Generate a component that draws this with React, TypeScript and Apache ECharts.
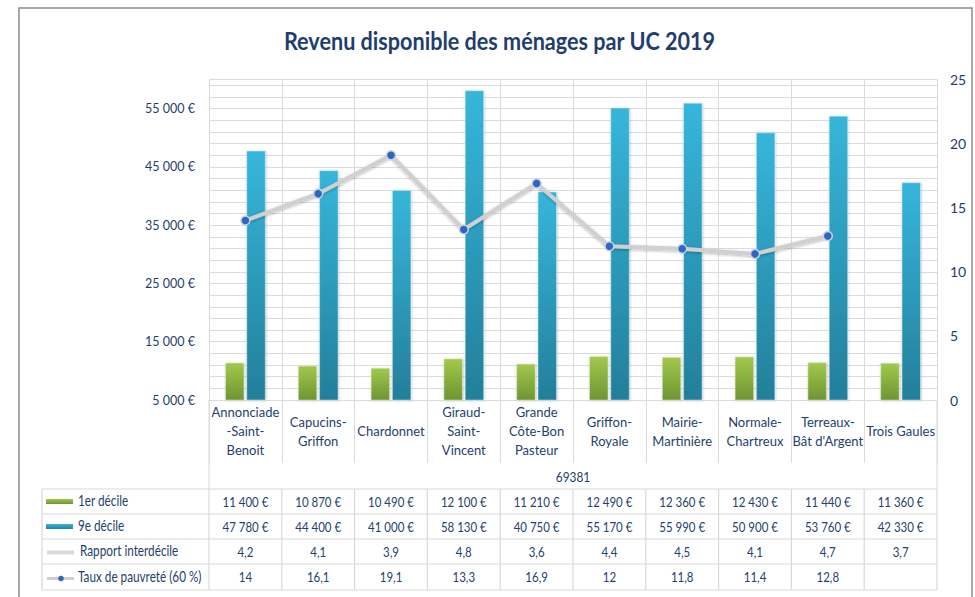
import React, { useEffect, useRef } from "react";
import * as echarts from "echarts";

const categories = [
  "Annonciade-Saint-Benoit",
  "Capucins-Griffon",
  "Chardonnet",
  "Giraud-Saint-Vincent",
  "Grande Côte-Bon Pasteur",
  "Griffon-Royale",
  "Mairie-Martinière",
  "Normale-Chartreux",
  "Terreaux-Bât d'Argent",
  "Trois Gaules",
];
const categoryLabels = [
  "Annonciade\n-Saint-\nBenoit",
  "Capucins-\nGriffon",
  "Chardonnet",
  "Giraud-\nSaint-\nVincent",
  "Grande\nCôte-Bon\nPasteur",
  "Griffon-\nRoyale",
  "Mairie-\nMartinière",
  "Normale-\nChartreux",
  "Terreaux-\nBât d'Argent",
  "Trois Gaules",
];
const groupLabel = "69381";
const decile1 = [11400, 10870, 10490, 12100, 11210, 12490, 12360, 12430, 11440, 11360];
const decile9 = [47780, 44400, 41000, 58130, 40750, 55170, 55990, 50900, 53760, 42330];
const rapport = [4.2, 4.1, 3.9, 4.8, 3.6, 4.4, 4.5, 4.1, 4.7, 3.7];
const pauvrete: (number | null)[] = [14, 16.1, 19.1, 13.3, 16.9, 12, 11.8, 11.4, 12.8, null];
const seriesNames = ["1er décile", "9e décile", "Rapport interdécile", "Taux de pauvreté (60 %)"];
const title = "Revenu disponible des ménages par UC 2019";

const FONT = "Lato, 'Noto Sans', sans-serif";
const TXT = "#243f6e";
const GRID_C = "#dcdcdc";

const euro = (v: number) => {
  const s = Math.round(v).toString().replace(/\B(?=(\d{3})+(?!\d))/g, " ");
  return s + " €";
};
const dec = (v: number | null) => (v === null ? "" : String(v).replace(".", ","));

export default function App() {
  const ref = useRef<HTMLDivElement>(null);
  useEffect(() => {
    if (!ref.current) return;
    const chart = echarts.init(ref.current, null, { renderer: "svg" });
    const greenGrad = new echarts.graphic.LinearGradient(0, 0, 0, 1, [
      { offset: 0, color: "#a2c84c" },
      { offset: 1, color: "#6e9532" },
    ]);
    const blueGrad = new echarts.graphic.LinearGradient(0, 0, 0, 1, [
      { offset: 0, color: "#36b6db" },
      { offset: 1, color: "#237f9a" },
    ]);
    const option: any = {
      animation: false,
      backgroundColor: "#ffffff",
      grid: { left: 209, right: 38, top: 79.6, bottom: 197 },
      xAxis: [
        {
          type: "category",
          data: categories,
          boundaryGap: true,
          axisLine: { show: true, lineStyle: { color: GRID_C } },
          axisTick: { show: true, interval: 0, length: 63, lineStyle: { color: GRID_C } },
          splitLine: { show: true, interval: 0, lineStyle: { color: GRID_C } },
          axisLabel: {
            interval: 0,
            margin: 31,
            verticalAlign: "middle",
            lineHeight: 19,
            fontSize: 13,
            fontFamily: FONT,
            color: TXT,
            formatter: (_v: string, i: number) => categoryLabels[i],
          },
        },
      ],
      yAxis: [
        {
          type: "value",
          min: 5000,
          max: 60000,
          interval: 5000,
          position: "left",
          axisLine: { show: false },
          axisTick: { show: false },
          splitLine: { show: false },
          axisLabel: {
            margin: 14,
            fontSize: 12.5,
            fontFamily: FONT,
            color: TXT,
            formatter: (v: number) => ((v - 5000) % 10000 === 0 && v < 60000 ? euro(v) : ""),
          },
        },
        {
          type: "value",
          min: 0,
          max: 25,
          interval: 5,
          position: "right",
          axisLine: { show: false },
          axisTick: { show: false },
          splitLine: { show: false },
          axisLabel: { margin: 13, fontSize: 14, fontFamily: FONT, color: TXT },
        },
        {
          type: "value",
          min: 0,
          max: 27.5,
          interval: 1,
          position: "left",
          axisLine: { show: false },
          axisTick: { show: false },
          axisLabel: { show: false },
          splitLine: { show: true, lineStyle: { color: GRID_C, width: 1 } },
        },
      ],
      series: [
        {
          name: seriesNames[0],
          type: "bar",
          yAxisIndex: 0,
          data: decile1,
          barWidth: 19,
          barGap: "12%",
          itemStyle: {
            color: greenGrad,
            borderColor: "#e6eedb",
            borderWidth: 0.5,
            shadowColor: "rgba(0,0,0,0.25)",
            shadowBlur: 2,
            shadowOffsetX: 0.5,
            shadowOffsetY: 0.5,
          },
        },
        {
          name: seriesNames[1],
          type: "bar",
          yAxisIndex: 0,
          data: decile9,
          barWidth: 19,
          itemStyle: {
            color: blueGrad,
            borderColor: "#d9eef5",
            borderWidth: 0.5,
            shadowColor: "rgba(0,0,0,0.25)",
            shadowBlur: 2,
            shadowOffsetX: 0.5,
            shadowOffsetY: 0.5,
          },
        },
        {
          name: seriesNames[2],
          type: "line",
          yAxisIndex: 0,
          data: rapport,
          clip: true,
          symbol: "none",
          lineStyle: { color: "#d9d9d9", width: 4 },
        },
        {
          name: seriesNames[3],
          type: "line",
          yAxisIndex: 1,
          data: pauvrete,
          connectNulls: false,
          symbol: "circle",
          symbolSize: 9,
          itemStyle: { color: "#2f67bd", borderColor: "#c9d3e6", borderWidth: 1.5 },
          lineStyle: {
            color: "#d0d0d0",
            width: 4,
            shadowColor: "rgba(0,0,0,0.3)",
            shadowBlur: 3,
            shadowOffsetY: 1,
          },
          z: 5,
        },
      ],
    };
    chart.setOption(option);

    const xs = categories.map((c) => chart.convertToPixel({ xAxisIndex: 0 }, c) as number);
    const bw = xs.length > 1 ? xs[1] - xs[0] : 72.8;
    const xL = xs[0] - bw / 2;
    const xR = xs[xs.length - 1] + bw / 2;
    const yBase = chart.convertToPixel({ yAxisIndex: 0 }, 5000) as number;
    const tableLeft = 42;
    const rowTops = [489, 514, 539, 564, 590];
    const lineC = "#d9d9d9";
    const els: any[] = [];

    // title
    els.push({
      type: "text",
      x: 499.5,
      y: 41,
      scaleX: 0.9,
      style: {
        text: title,
        fontFamily: FONT,
        fontSize: 24,
        fontWeight: "bold",
        fill: "#1f3d6e",
        textAlign: "center",
        textVerticalAlign: "middle",
      },
      silent: true,
    });
    // outer frame
    els.push({
      type: "rect",
      shape: { x: 19, y: 8, width: 953, height: 640 },
      style: { fill: "none", stroke: "#8c8c8c", lineWidth: 1.5 },
      silent: true,
    });
    // outer verticals of category area
    [xL, xR].forEach((x) =>
      els.push({
        type: "line",
        shape: { x1: x, y1: yBase, x2: x, y2: rowTops[0] },
        style: { stroke: lineC, lineWidth: 1 },
        silent: true,
      })
    );
    // group label
    els.push({
      type: "text",
      x: (xL + xR) / 2,
      y: 477,
      scaleX: 0.85,
      style: {
        text: groupLabel,
        fontFamily: FONT,
        fontSize: 14,
        fill: TXT,
        textAlign: "center",
        textVerticalAlign: "middle",
      },
      silent: true,
    });
    // table horizontal lines
    rowTops.forEach((y) =>
      els.push({
        type: "line",
        shape: { x1: tableLeft, y1: y, x2: xR, y2: y },
        style: { stroke: lineC, lineWidth: 1.2 },
        silent: true,
      })
    );
    // table vertical lines
    const vx = [tableLeft, ...xs.map((x) => x - bw / 2), xR];
    vx.forEach((x) =>
      els.push({
        type: "line",
        shape: { x1: x, y1: rowTops[0], x2: x, y2: rowTops[rowTops.length - 1] },
        style: { stroke: lineC, lineWidth: 1.2 },
        silent: true,
      })
    );
    const rows = [
      decile1.map(euro),
      decile9.map(euro),
      rapport.map(dec),
      pauvrete.map(dec),
    ];
    rows.forEach((vals, r) => {
      const yc = (rowTops[r] + rowTops[r + 1]) / 2;
      vals.forEach((t, i) => {
        if (!t) return;
        els.push({
          type: "text",
          x: xs[i],
          y: yc,
          scaleX: 0.82,
          style: {
            text: t,
            fontFamily: FONT,
            fontSize: 14,
            fill: TXT,
            textAlign: "center",
            textVerticalAlign: "middle",
          },
          silent: true,
        });
      });
      els.push({
        type: "text",
        x: r === 2 ? 80 : 78,
        y: yc - 0.5,
        scaleX: 0.81,
        style: {
          text: seriesNames[r],
          fontFamily: FONT,
          fontSize: 14.5,
          fill: TXT,
          textAlign: "left",
          textVerticalAlign: "middle",
        },
        silent: true,
      });
    });
    // legend keys
    const yk = rowTops.slice(0, 4).map((y, r) => (y + rowTops[r + 1]) / 2);
    els.push({
      type: "rect",
      shape: { x: 46, y: yk[0] - 2.5, width: 27, height: 5 },
      style: { fill: greenGrad },
      silent: true,
    });
    els.push({
      type: "rect",
      shape: { x: 46, y: yk[1] - 2.5, width: 27, height: 5 },
      style: { fill: blueGrad },
      silent: true,
    });
    els.push({
      type: "line",
      shape: { x1: 47, y1: yk[2] + 1, x2: 74, y2: yk[2] + 1 },
      style: { stroke: "#d9d9d9", lineWidth: 4 },
      silent: true,
    });
    els.push({
      type: "line",
      shape: { x1: 47, y1: yk[3] + 1.5, x2: 74, y2: yk[3] + 1.5 },
      style: { stroke: "#d0d0d0", lineWidth: 3 },
      silent: true,
    });
    els.push({
      type: "circle",
      shape: { cx: 61, cy: yk[3] + 1.5, r: 2.8 },
      style: { fill: "#2f67bd" },
      silent: true,
    });

    chart.setOption({ graphic: els });
    return () => chart.dispose();
  }, []);

  return (
    <div
      ref={ref}
      style={{ position: "fixed", left: 0, top: 0, width: 975, height: 597, background: "#fff" }}
    />
  );
}
